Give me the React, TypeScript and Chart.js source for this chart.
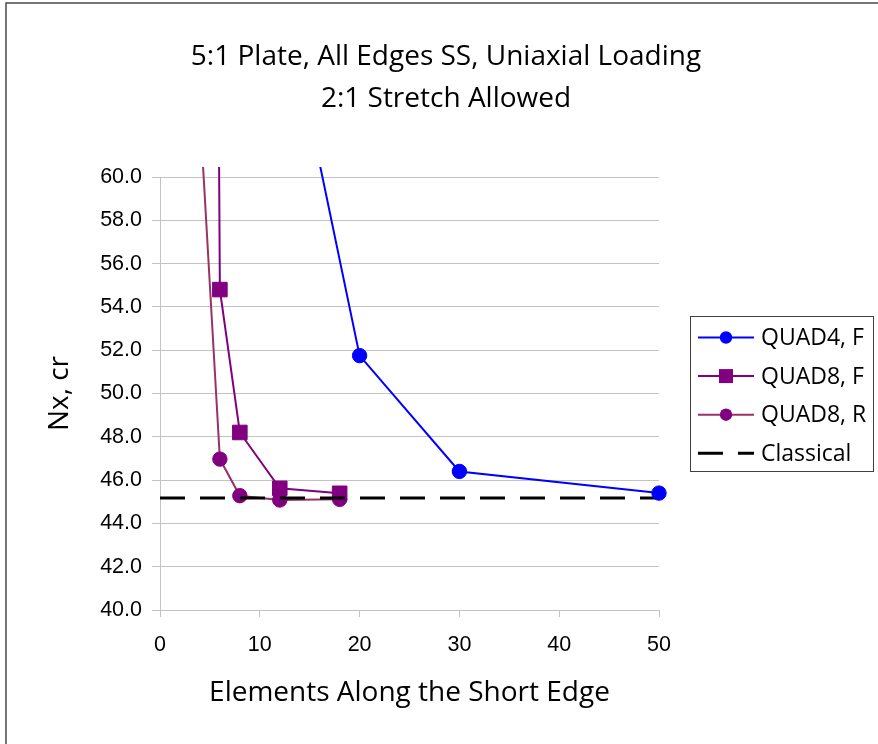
import React, { useEffect, useRef } from 'react';
import { Chart, registerables } from 'chart.js';

Chart.register(...registerables);

// ---- text ----
const titleLines = ['5:1 Plate, All Edges SS, Uniaxial Loading', '2:1 Stretch Allowed'];
const xAxisTitle = 'Elements Along the Short Edge';
const yAxisTitle = 'Nx, cr';

// ---- series (x = elements along the short edge, y = Nx,cr) ----
const quad4F_label = 'QUAD4, F';
const quad4F_x = [10, 20, 30, 50];
const quad4F_y = [73.9, 51.75, 46.4, 45.4];

const quad8F_label = 'QUAD8, F';
const quad8F_x = [4, 6, 8, 12, 18];
const quad8F_y = [200, 54.8, 48.2, 45.62, 45.39];

const quad8R_label = 'QUAD8, R';
const quad8R_x = [4, 6, 8, 12, 18];
const quad8R_y = [63.0, 46.97, 45.28, 45.08, 45.11];

const classical_label = 'Classical';
const classical_x = [0, 50];
const classical_y = [45.17, 45.17];

// ---- axes ----
const xMin = 0;
const xMax = 50;
const xStep = 10;
const yMin = 40;
const yMax = 60;
const yStep = 2;

const zip = (xs: number[], ys: number[]) => xs.map((x, i) => ({ x, y: ys[i] }));

const GRID = '#c3c3c3';
const TICK_FONT = { family: '"Liberation Sans", Arial, sans-serif', size: 21.5 };
const TITLE_FONT = { family: '"Open Sans", "Noto Sans", sans-serif', size: 28 };

const framePlugin = {
  id: 'frame',
  beforeDraw(chart: any) {
    const ctx = chart.ctx;
    ctx.save();
    ctx.fillStyle = '#ffffff';
    ctx.fillRect(0, 0, chart.width, chart.height);
    ctx.strokeStyle = '#4a4a4a';
    ctx.lineWidth = 1.5;
    ctx.beginPath();
    ctx.moveTo(6, chart.height);
    ctx.lineTo(6, 3);
    ctx.lineTo(chart.width, 3);
    ctx.stroke();
    ctx.restore();
  },
};

const boxLegendPlugin = {
  id: 'boxLegend',
  afterDraw(chart: any) {
    const ctx = chart.ctx;
    ctx.save();
    const bx = 690.5;
    const by = 316.5;
    const bw = 183;
    const bh = 155;
    ctx.strokeStyle = '#404040';
    ctx.lineWidth = 1;
    ctx.strokeRect(bx, by, bw, bh);
    chart.data.datasets.forEach((ds: any, i: number) => {
      const y = 337.5 + i * 38.6;
      ctx.beginPath();
      ctx.setLineDash(ds.borderDash || []);
      ctx.lineWidth = ds.borderWidth;
      ctx.strokeStyle = ds.borderColor;
      ctx.moveTo(698, y);
      ctx.lineTo(754, y);
      ctx.stroke();
      ctx.setLineDash([]);
      if (ds.pointRadius > 0) {
        ctx.fillStyle = ds.pointBackgroundColor;
        if (ds.pointStyle === 'rect') {
          ctx.fillRect(726 - 7, y - 7, 14, 14);
        } else {
          ctx.beginPath();
          ctx.arc(726, y, 6.2, 0, Math.PI * 2);
          ctx.fill();
        }
      }
      ctx.fillStyle = '#000';
      ctx.font = '23px "Open Sans", "Noto Sans", sans-serif';
      ctx.textBaseline = 'middle';
      ctx.textAlign = 'left';
      ctx.fillText(ds.label, 761, y + 1);
    });
    ctx.restore();
  },
};

export default function App() {
  const canvasRef = useRef<HTMLCanvasElement | null>(null);

  useEffect(() => {
    if (!canvasRef.current) return;
    const clip = { left: 12, top: 10, right: 12, bottom: 12 };
    const chart = new Chart(canvasRef.current, {
      type: 'scatter',
      data: {
        datasets: [
          {
            label: quad4F_label,
            data: zip(quad4F_x, quad4F_y),
            showLine: true,
            borderColor: '#0000ff',
            backgroundColor: '#0000ff',
            borderWidth: 2,
            pointStyle: 'circle',
            pointRadius: 7.2,
            pointBorderWidth: 1,
            pointBackgroundColor: '#0000ff',
            pointBorderColor: '#0000ff',
            clip,
            order: 0,
            xAxisID: 'x',
            yAxisID: 'y',
          },
          {
            label: quad8F_label,
            data: zip(quad8F_x, quad8F_y),
            showLine: true,
            borderColor: '#800080',
            backgroundColor: '#800080',
            borderWidth: 2,
            pointStyle: 'rect',
            pointRadius: 10.3,
            pointBorderWidth: 1,
            pointBackgroundColor: '#800080',
            pointBorderColor: '#800080',
            clip,
            order: 2,
            xAxisID: 'x',
            yAxisID: 'y',
          },
          {
            label: quad8R_label,
            data: zip(quad8R_x, quad8R_y),
            showLine: true,
            borderColor: '#993366',
            backgroundColor: '#800080',
            borderWidth: 2,
            pointStyle: 'circle',
            pointRadius: 7.2,
            pointBorderWidth: 1,
            pointBackgroundColor: '#800080',
            pointBorderColor: '#800080',
            clip,
            order: 3,
            xAxisID: 'x',
            yAxisID: 'y',
          },
          {
            label: classical_label,
            data: zip(classical_x, classical_y),
            showLine: true,
            borderColor: '#000000',
            backgroundColor: '#000000',
            borderWidth: 3,
            borderDash: [25, 15],
            pointRadius: 0,
            clip,
            order: 1,
            xAxisID: 'x',
            yAxisID: 'y',
          },
        ],
      },
      options: {
        responsive: false,
        animation: false,
        events: [],
        layout: { padding: { left: 14, top: 0, right: 0, bottom: 0 } },
        plugins: {
          legend: { display: false },
          tooltip: { enabled: false },
          title: {
            display: true,
            text: titleLines,
            color: '#000',
            font: { ...TITLE_FONT, weight: 'normal', lineHeight: 1.5 },
            padding: { top: 36, bottom: 57 },
          },
        },
        scales: {
          x: {
            type: 'linear',
            position: 'bottom',
            min: xMin,
            max: xMax,
            ticks: { stepSize: xStep, color: '#000', font: TICK_FONT, padding: 15 },
            grid: { drawOnChartArea: false, drawTicks: true, tickLength: 7, color: GRID, lineWidth: 1 },
            border: { display: true, color: GRID, width: 1 },
            title: {
              display: true,
              text: xAxisTitle,
              color: '#000',
              font: TITLE_FONT,
              padding: { top: 0, bottom: 34 },
            },
            afterFit: (s: any) => {
              s.height = 134;
            },
          },
          y: {
            type: 'linear',
            position: 'left',
            min: yMin,
            max: yMax,
            ticks: {
              stepSize: yStep,
              color: '#000',
              font: TICK_FONT,
              padding: 10,
              callback: (v: any) => Number(v).toFixed(1),
            },
            grid: { drawOnChartArea: true, drawTicks: true, tickLength: 8, color: GRID, lineWidth: 1 },
            border: { display: true, color: GRID, width: 1 },
            title: {
              display: true,
              text: yAxisTitle,
              color: '#000',
              font: TITLE_FONT,
              padding: { top: 29, bottom: 0 },
            },
            afterFit: (s: any) => {
              s.width = 146;
            },
          },
          ySpacer: {
            type: 'linear',
            position: 'right',
            display: true,
            grid: { display: false, drawTicks: false },
            border: { display: false },
            ticks: { display: false },
            afterFit: (s: any) => {
              s.width = 219;
            },
          },
        },
      } as any,
      plugins: [framePlugin, boxLegendPlugin],
    });
    return () => chart.destroy();
  }, []);

  return (
    <div style={{ position: 'absolute', left: 0, top: 0, width: 878, height: 744 }}>
      <canvas ref={canvasRef} width={878} height={744} />
    </div>
  );
}
